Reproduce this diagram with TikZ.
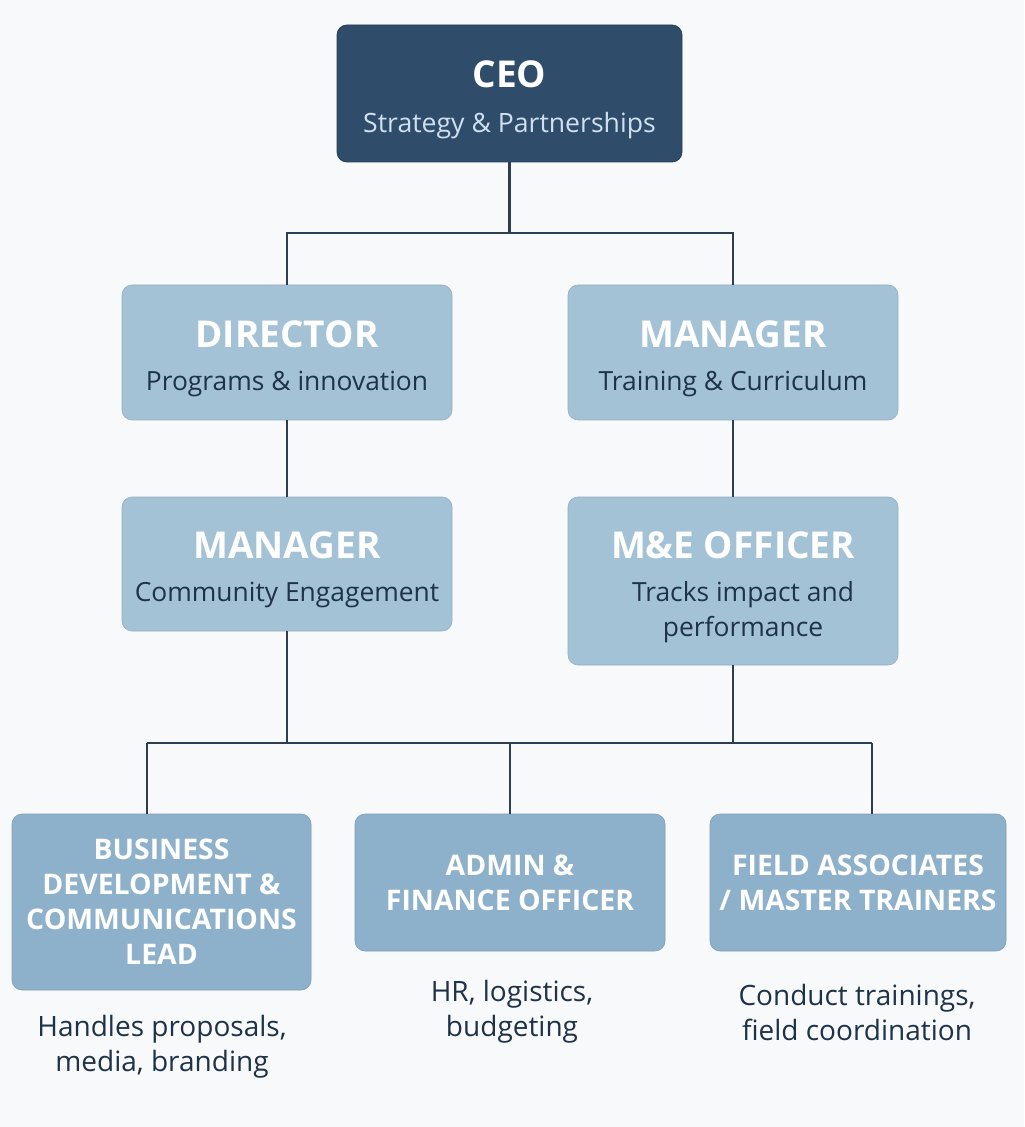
\documentclass[tikz,border=0pt]{standalone}
\usepackage{fontspec}
\setmainfont{Open Sans}
\usepackage{tikz}
\usetikzlibrary{positioning}
\definecolor{bgpaper}{HTML}{F8F9FA}
\definecolor{ceoblue}{HTML}{2F4D6B}
\definecolor{ceosub}{HTML}{CFE0EE}
\definecolor{midblue}{HTML}{A4C2D6}
\definecolor{lowblue}{HTML}{8DB0CB}
\definecolor{inkblue}{HTML}{1E3248}
\definecolor{wireblue}{HTML}{2C3E50}
\newcommand{\ttl}[1]{{\fontsize{18.5}{20}\selectfont\bfseries\rule{0pt}{1.05em}#1}}
\newcommand{\lowttl}[1]{{\bfseries #1}}
\begin{document}
\begin{tikzpicture}[x=0.5pt, y=-0.5pt]
\tikzstyle{every node}=[inner sep=0pt, align=center]
\tikzstyle{ceobox}=[rounded corners=5pt, fill=ceoblue, draw=ceoblue!80!black, line width=0.4pt,
                    text=white, font=\fontsize{13.3}{17.5}\selectfont]
\tikzstyle{midbox}=[rounded corners=5pt, fill=midblue, draw=midblue!90!black, line width=0.3pt,
                    text=inkblue, font=\fontsize{13.2}{17.5}\selectfont]
\tikzstyle{lowbox}=[rounded corners=5pt, fill=lowblue, draw=lowblue!90!black, line width=0.3pt,
                    text=white, font=\fontsize{14.2}{17.5}\selectfont]
\tikzstyle{note}=[text=inkblue, font=\fontsize{14}{17.5}\selectfont]
\tikzstyle{wire}=[draw=wireblue, line width=1.25pt]
\useasboundingbox[fill=bgpaper] (0,0) rectangle (1024,1127);
% top
\node[ceobox, minimum width=172.5pt, minimum height=68.5pt] (ceo) at (509.5,93.5)
  {\ttl{CEO}\\[5pt]\textcolor{ceosub}{Strategy \& Partnerships}};
% second row
\node[midbox, minimum width=165pt, minimum height=67.5pt] (dir) at (287,352.5)
  {\textcolor{white}{\ttl{DIRECTOR}}\\[4pt]Programs \& innovation};
\node[midbox, minimum width=165pt, minimum height=67.5pt] (mgrtrain) at (733,352.5)
  {\textcolor{white}{\ttl{MANAGER}}\\[4pt]Training \& Curriculum};
% third row
\node[midbox, minimum width=165pt, minimum height=67pt] (mgrcomm) at (287,564)
  {\textcolor{white}{\ttl{MANAGER}}\\[4pt]Community Engagement};
\node[midbox, minimum width=165pt, minimum height=84pt] (meo) at (733,581)
  {\textcolor{white}{\ttl{M\&E OFFICER}}\\[4pt]\hspace*{10pt}Tracks impact and\\\hspace*{10pt}performance};
% bottom row
\node[lowbox, minimum width=149.5pt, minimum height=88pt] (bizdev) at (161.5,902)
  {\lowttl{BUSINESS}\\\lowttl{DEVELOPMENT \&}\\\lowttl{COMMUNICATIONS}\\\lowttl{LEAD}};
\node[lowbox, minimum width=155pt, minimum height=68.5pt] (admin) at (510,882.5)
  {\lowttl{ADMIN \&}\\\lowttl{FINANCE OFFICER}};
\node[lowbox, minimum width=148pt, minimum height=68.5pt] (field) at (858,882.5)
  {\lowttl{FIELD ASSOCIATES}\\\lowttl{/ MASTER TRAINERS}};
% notes under the bottom row
\node[note] (bizdevnote) at (162,1047) {Handles proposals,\\media, branding};
\node[note] (adminnote) at (512,1012) {HR, logistics,\\budgeting};
\node[note] (fieldnote) at (857,1012) {Conduct trainings,\\field coordination};
% connectors
\coordinate (topjoin) at (509.5,233);
\coordinate (lowjoin) at (510,743);
\coordinate (commjoin) at (287,743);
\coordinate (mejoin) at (733,743);
\coordinate (leftjoin) at (147,743);
\coordinate (rightjoin) at (872,743);
\draw[wire] (ceo.south) -- (topjoin);
\draw[wire] (dir.north) |- (topjoin) -| (mgrtrain.north);
\draw[wire] (dir.south) -- (mgrcomm.north);
\draw[wire] (mgrtrain.south) -- (meo.north);
\draw[wire] (mgrcomm.south) -- (commjoin);
\draw[wire] (meo.south) -- (mejoin);
\draw[wire] (leftjoin) -- (rightjoin);
\draw[wire] (leftjoin) -- (leftjoin |- bizdev.north);
\draw[wire] (rightjoin) -- (rightjoin |- field.north);
\draw[wire] (admin.north) -- (lowjoin);
\end{tikzpicture}
\end{document}
